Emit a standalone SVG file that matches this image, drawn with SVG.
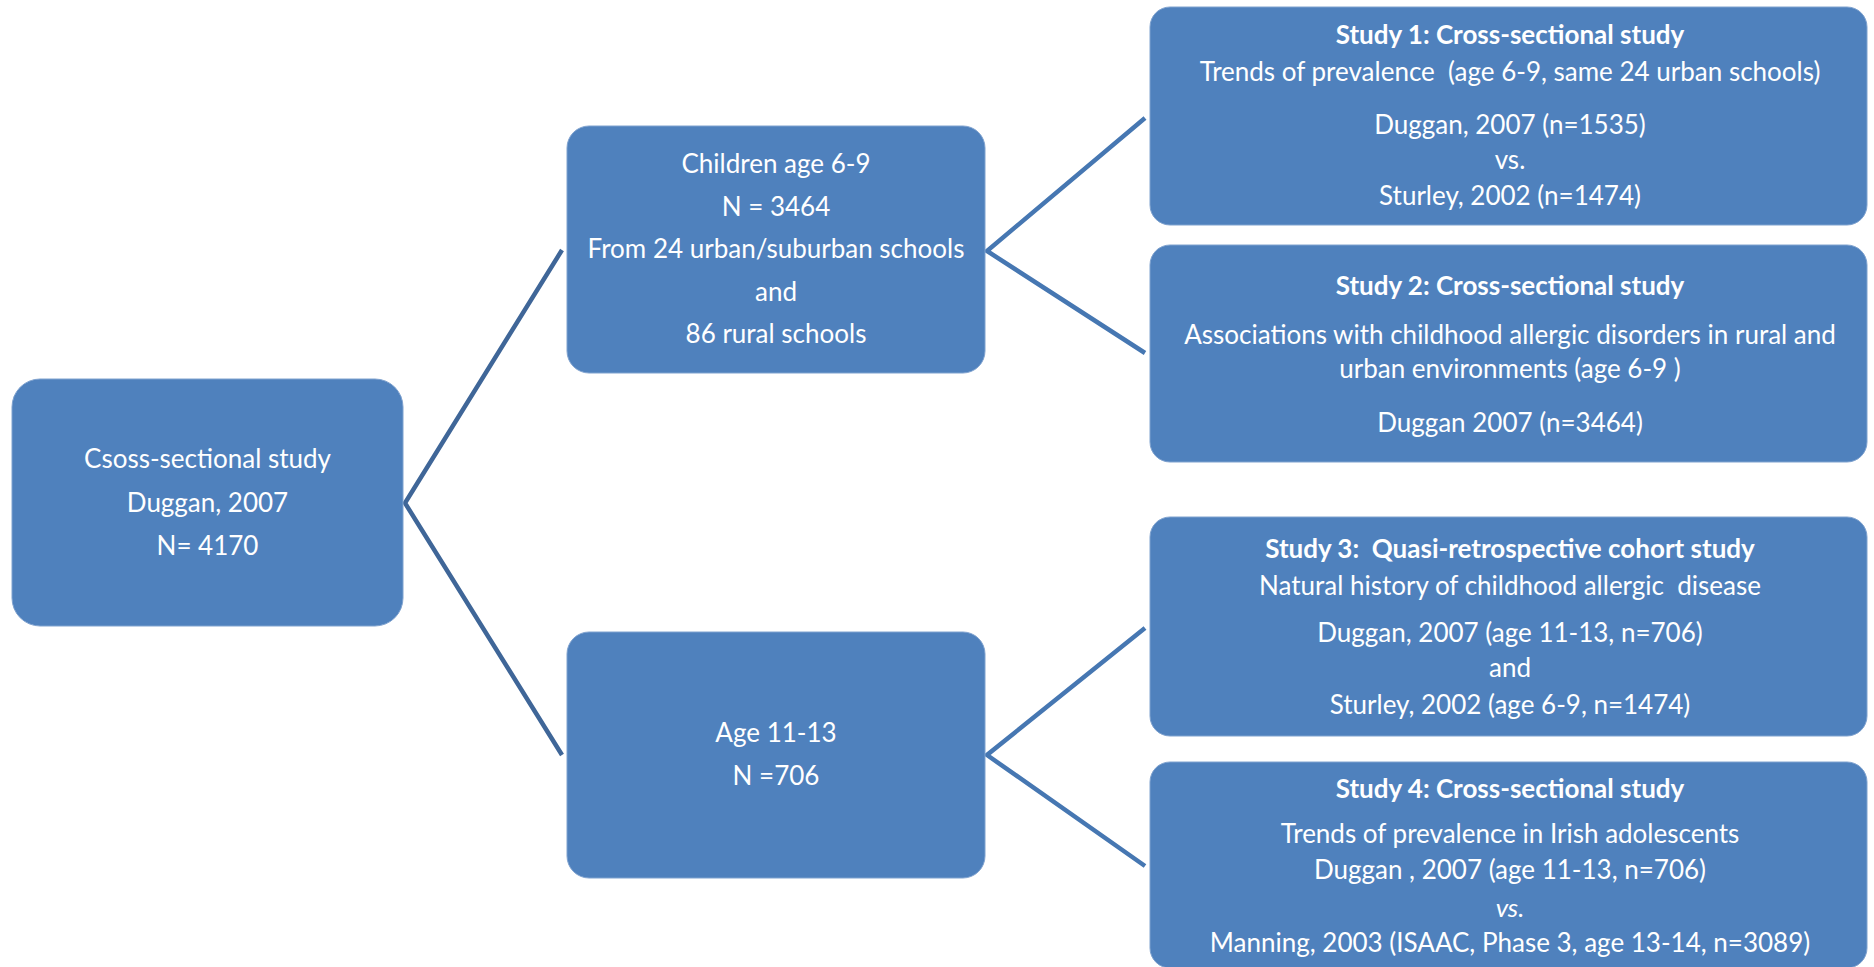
<svg xmlns="http://www.w3.org/2000/svg" width="1874" height="967" viewBox="0 0 1874 967">
<style>
.box{fill:#4F81BD;stroke:#7FA2CF;stroke-width:1}
.t{font-family:Lato,"Liberation Sans",sans-serif;font-size:26px;fill:#FFFFFF;text-anchor:middle}
.b{font-weight:bold}
.i{font-style:italic}
.c1{fill:none;stroke:#3F6698;stroke-width:4.5;stroke-linejoin:miter}
.c2{fill:none;stroke:#4677B2;stroke-width:4.5;stroke-linejoin:miter}
</style>
<rect width="1874" height="967" fill="#FFFFFF"/>
<g id="connectors">
<polyline class="c1" points="562,250 405,503 562,755"/>
<polyline class="c2" points="1145,118 987,251 1145,353"/>
<polyline class="c2" points="1145,628 987,755 1145,866"/>
</g>
<g id="root">
<rect class="box" x="12" y="379" width="391" height="247" rx="28"/>
<text class="t" x="207.5" y="468">Csoss-sectional study</text>
<text class="t" x="207.5" y="512">Duggan, 2007</text>
<text class="t" x="207.5" y="555">N= 4170</text>
</g>
<g id="children">
<rect class="box" x="567" y="126" width="418" height="247" rx="22"/>
<text class="t" x="776" y="173">Children age 6-9</text>
<text class="t" x="776" y="216">N = 3464</text>
<text class="t" x="776" y="258">From 24 urban/suburban schools</text>
<text class="t" x="776" y="301">and</text>
<text class="t" x="776" y="343">86 rural schools</text>
</g>
<g id="age1113">
<rect class="box" x="567" y="632" width="418" height="246" rx="22"/>
<text class="t" x="776" y="742">Age 11-13</text>
<text class="t" x="776" y="785">N =706</text>
</g>
<g id="study1">
<rect class="box" x="1150" y="7" width="717" height="218" rx="20"/>
<text class="t b" x="1510" y="44">Study 1: Cross-sectional study</text>
<text class="t" x="1510" y="81" xml:space="preserve">Trends of prevalence  (age 6-9, same 24 urban schools)</text>
<text class="t" x="1510" y="134">Duggan, 2007 (n=1535)</text>
<text class="t" x="1510" y="169">vs.</text>
<text class="t" x="1510" y="205">Sturley, 2002 (n=1474)</text>
</g>
<g id="study2">
<rect class="box" x="1150" y="245" width="717" height="217" rx="20"/>
<text class="t b" x="1510" y="295">Study 2: Cross-sectional study</text>
<text class="t" x="1510" y="344">Associations with childhood allergic disorders in rural and</text>
<text class="t" x="1510" y="378">urban environments (age 6-9 )</text>
<text class="t" x="1510" y="432">Duggan 2007 (n=3464)</text>
</g>
<g id="study3">
<rect class="box" x="1150" y="517" width="717" height="219" rx="20"/>
<text class="t b" x="1510" y="558" xml:space="preserve">Study 3:  Quasi-retrospective cohort study</text>
<text class="t" x="1510" y="595" xml:space="preserve">Natural history of childhood allergic  disease</text>
<text class="t" x="1510" y="642">Duggan, 2007 (age 11-13, n=706)</text>
<text class="t" x="1510" y="677">and</text>
<text class="t" x="1510" y="714">Sturley, 2002 (age 6-9, n=1474)</text>
</g>
<g id="study4">
<rect class="box" x="1150" y="762" width="717" height="206" rx="20"/>
<text class="t b" x="1510" y="798">Study 4: Cross-sectional study</text>
<text class="t" x="1510" y="843">Trends of prevalence in Irish adolescents</text>
<text class="t" x="1510" y="879">Duggan , 2007 (age 11-13, n=706)</text>
<text class="t i" x="1510" y="917">vs.</text>
<text class="t" x="1510" y="952">Manning, 2003 (ISAAC, Phase 3, age 13-14, n=3089)</text>
</g>
</svg>
